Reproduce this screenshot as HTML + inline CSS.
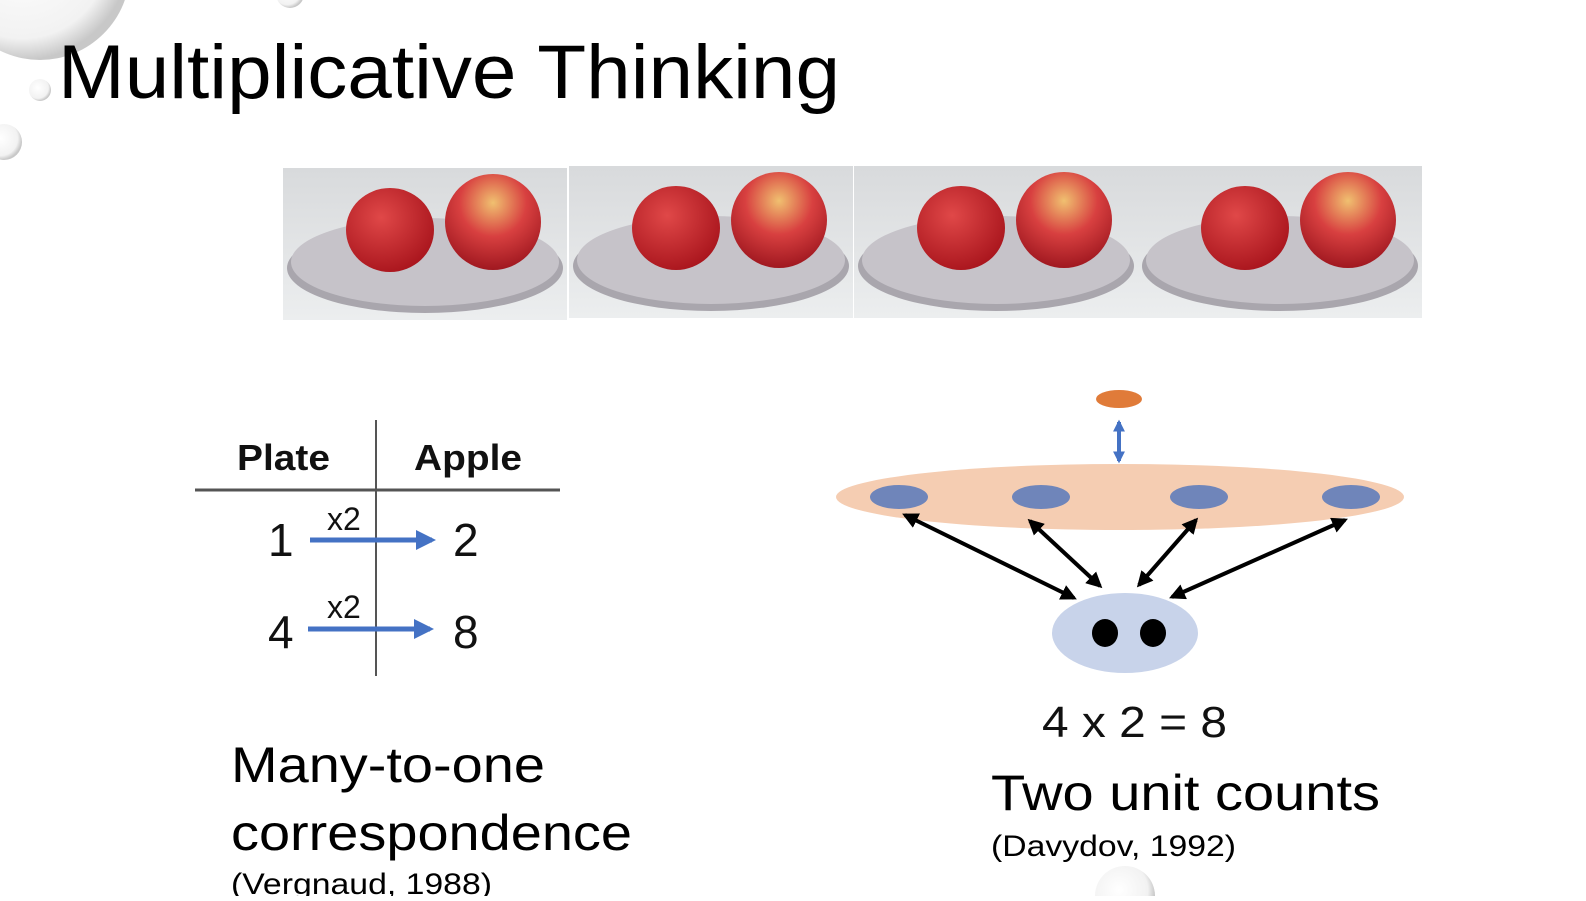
<!DOCTYPE html>
<html><head><meta charset="utf-8"><style>
body{margin:0;width:1586px;height:896px;overflow:hidden;background:#fff;font-family:"Liberation Sans",sans-serif}
</style></head><body>
<svg width="1586" height="896" xmlns="http://www.w3.org/2000/svg">
<defs>
<radialGradient id="bub" cx="0.4" cy="0.4" r="0.6"><stop offset="0" stop-color="#fff"/><stop offset="0.8" stop-color="#f2f2f2"/><stop offset="1" stop-color="#c8c8c8"/></radialGradient>
<radialGradient id="ap1" cx="0.4" cy="0.35" r="0.7"><stop offset="0" stop-color="#e04848"/><stop offset="1" stop-color="#a8141c"/></radialGradient>
<radialGradient id="ap2" cx="0.5" cy="0.3" r="0.7"><stop offset="0" stop-color="#f0c070"/><stop offset="0.5" stop-color="#d84040"/><stop offset="1" stop-color="#a01820"/></radialGradient>
<linearGradient id="bg" x1="0" y1="0" x2="0" y2="1"><stop offset="0" stop-color="#d8dadc"/><stop offset="1" stop-color="#eceeef"/></linearGradient>
<marker id="ak" viewBox="0 0 10 10" refX="8" refY="5" markerWidth="4" markerHeight="4" orient="auto-start-reverse"><path d="M0,0L10,5L0,10z" fill="#000"/></marker>
<marker id="ab" viewBox="0 0 10 10" refX="8" refY="5" markerWidth="3" markerHeight="3" orient="auto-start-reverse"><path d="M0,0L10,5L0,10z" fill="#4472c4"/></marker>
<marker id="ab2" viewBox="0 0 10 10" refX="8" refY="5" markerWidth="4" markerHeight="4" orient="auto"><path d="M0,0L10,5L0,10z" fill="#4472c4"/></marker>
<g id="panel">
<rect x="0" y="0" width="284" height="152" fill="url(#bg)"/>
<ellipse cx="142" cy="100" rx="138" ry="45" fill="#a9a6ad"/>
<ellipse cx="142" cy="94" rx="134" ry="44" fill="#c6c3c9"/>
<ellipse cx="107" cy="62" rx="44" ry="42" fill="url(#ap1)"/>
<ellipse cx="210" cy="54" rx="48" ry="48" fill="url(#ap2)"/>
</g>
</defs>
<circle cx="40" cy="-30" r="90" fill="url(#bub)"/>
<circle cx="40" cy="90" r="11" fill="url(#bub)"/>
<circle cx="4" cy="142" r="18" fill="url(#bub)"/>
<circle cx="290" cy="-6" r="14" fill="url(#bub)"/>
<text x="58" y="98" font-size="76" fill="#000" textLength="782" lengthAdjust="spacingAndGlyphs">Multiplicative Thinking</text>
<use href="#panel" x="283" y="168"/>
<use href="#panel" x="569" y="166"/>
<use href="#panel" x="854" y="166"/>
<use href="#panel" x="1138" y="166"/>
<line x1="376" y1="420" x2="376" y2="676" stroke="#555" stroke-width="2"/>
<line x1="195" y1="490" x2="560" y2="490" stroke="#555" stroke-width="3"/>
<text x="237" y="470" font-size="36" font-weight="bold" fill="#111" textLength="93" lengthAdjust="spacingAndGlyphs">Plate</text>
<text x="414" y="470" font-size="36" font-weight="bold" fill="#111" textLength="108" lengthAdjust="spacingAndGlyphs">Apple</text>
<text x="268" y="556" font-size="46" fill="#111">1</text>
<text x="453" y="556" font-size="46" fill="#111">2</text>
<text x="268" y="648" font-size="46" fill="#111">4</text>
<text x="453" y="648" font-size="46" fill="#111">8</text>
<text x="327" y="530" font-size="32" fill="#111">x2</text>
<text x="327" y="618" font-size="32" fill="#111">x2</text>
<line x1="310" y1="540" x2="432" y2="540" stroke="#4472c4" stroke-width="5" marker-end="url(#ab2)"/>
<line x1="308" y1="629" x2="430" y2="629" stroke="#4472c4" stroke-width="5" marker-end="url(#ab2)"/>
<text x="231" y="782" font-size="50" fill="#000" textLength="314" lengthAdjust="spacingAndGlyphs">Many-to-one</text>
<text x="231" y="850" font-size="50" fill="#000" textLength="401" lengthAdjust="spacingAndGlyphs">correspondence</text>
<text x="231" y="894" font-size="30" fill="#000" textLength="261" lengthAdjust="spacingAndGlyphs">(Vergnaud, 1988)</text>
<ellipse cx="1119" cy="399" rx="23" ry="9" fill="#e07b39"/>
<line x1="1119" y1="422" x2="1119" y2="461" stroke="#4472c4" stroke-width="4" marker-start="url(#ab)" marker-end="url(#ab)"/>
<ellipse cx="1120" cy="497" rx="284" ry="33" fill="#f5cdb2"/>
<g fill="#6f85ba"><ellipse cx="899" cy="497" rx="29" ry="12"/><ellipse cx="1041" cy="497" rx="29" ry="12"/><ellipse cx="1199" cy="497" rx="29" ry="12"/><ellipse cx="1351" cy="497" rx="29" ry="12"/></g>
<g stroke="#000" stroke-width="4">
<line x1="905" y1="515" x2="1074" y2="598" marker-start="url(#ak)" marker-end="url(#ak)"/>
<line x1="1030" y1="521" x2="1100" y2="586" marker-start="url(#ak)" marker-end="url(#ak)"/>
<line x1="1196" y1="520" x2="1139" y2="585" marker-start="url(#ak)" marker-end="url(#ak)"/>
<line x1="1345" y1="520" x2="1172" y2="597" marker-start="url(#ak)" marker-end="url(#ak)"/>
</g>
<ellipse cx="1125" cy="633" rx="73" ry="40" fill="#c8d3ea"/>
<ellipse cx="1105" cy="633" rx="13" ry="14" fill="#000"/>
<ellipse cx="1153" cy="633" rx="13" ry="14" fill="#000"/>
<text x="1042" y="737" font-size="44" fill="#111" textLength="185" lengthAdjust="spacingAndGlyphs">4 x 2 = 8</text>
<text x="991" y="810" font-size="50" fill="#000" textLength="389" lengthAdjust="spacingAndGlyphs">Two unit counts</text>
<text x="991" y="856" font-size="30" fill="#000" textLength="245" lengthAdjust="spacingAndGlyphs">(Davydov, 1992)</text>
<circle cx="1125" cy="896" r="30" fill="url(#bub)"/>
</svg>
</body></html>
